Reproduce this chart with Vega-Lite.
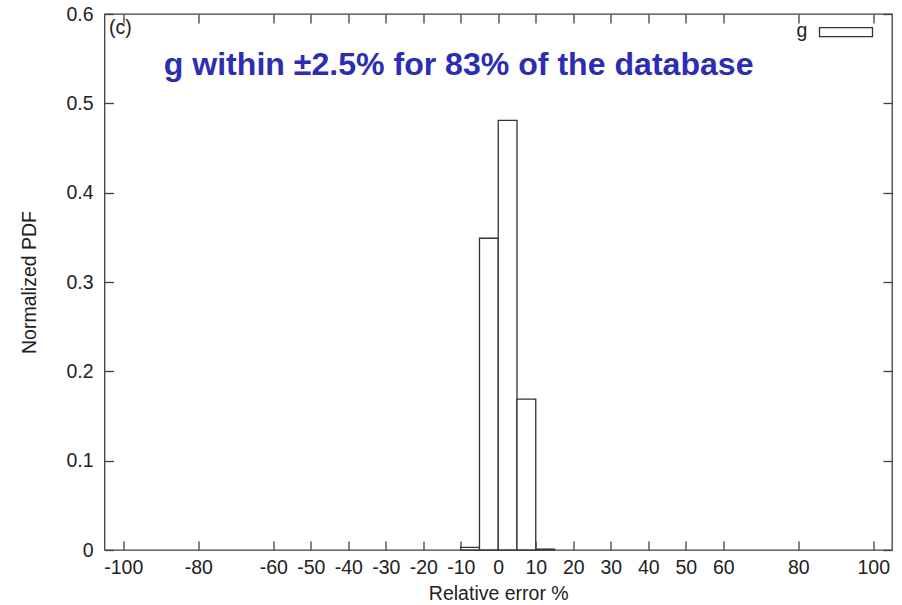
{
  "$schema": "https://vega.github.io/schema/vega-lite/v6.json",
  "width": 787.5,
  "height": 536,
  "autosize": {"type": "none"},
  "padding": {"left": 104.5, "top": 14, "right": 10, "bottom": 55},
  "background": "white",
  "config": {
    "view": {"stroke": "#404040", "strokeWidth": 1.3},
    "font": "Liberation Sans",
    "axis": {
      "domain": false,
      "grid": false,
      "tickColor": "#404040",
      "tickWidth": 1.3,
      "tickSize": -9,
      "labelFont": "Liberation Sans",
      "labelFontSize": 19.5,
      "labelColor": "#222222",
      "labelFlush": false,
      "titleFont": "Liberation Sans",
      "titleFontSize": 19.5,
      "titleFontWeight": "normal",
      "titleColor": "#222222"
    }
  },
  "datasets": {
    "hist": [
      {"series": "g", "lo": -10, "hi": -5, "pdf": 0.003},
      {"series": "g", "lo": -5, "hi": 0, "pdf": 0.349},
      {"series": "g", "lo": 0, "hi": 5, "pdf": 0.481},
      {"series": "g", "lo": 5, "hi": 10, "pdf": 0.169},
      {"series": "g", "lo": 10, "hi": 15, "pdf": 0.001}
    ]
  },
  "layer": [
    {
      "data": {"name": "hist"},
      "mark": {"type": "rect", "fill": "white", "strokeWidth": 1.3},
      "encoding": {
        "x": {
          "field": "lo",
          "type": "quantitative",
          "scale": {"domain": [-105, 105], "nice": false, "zero": false},
          "axis": {
            "orient": "bottom",
            "values": [-100, -80, -60, -50, -40, -30, -20, -10, 0, 10, 20, 30, 40, 50, 60, 80, 100],
            "labelExpr": "'' + datum.value",
            "labelPadding": 17,
            "title": "Relative error %",
            "titlePadding": 8
          }
        },
        "x2": {"field": "hi"},
        "y": {
          "field": "pdf",
          "type": "quantitative",
          "scale": {"domain": [0, 0.6], "nice": false},
          "axis": {
            "orient": "left",
            "values": [0, 0.1, 0.2, 0.3, 0.4, 0.5, 0.6],
            "labelExpr": "'' + datum.value",
            "labelPadding": 20.5,
            "title": "Normalized PDF",
            "titlePadding": 26
          }
        },
        "y2": {"datum": 0},
        "stroke": {
          "field": "series",
          "type": "nominal",
          "scale": {"range": ["#333333"]},
          "legend": {
            "orient": "none",
            "legendX": 692,
            "legendY": -9.3,
            "padding": 0,
            "title": "g",
            "titleOrient": "left",
            "titleAnchor": "start",
            "titleBaseline": "line-top",
            "titleLineHeight": 53,
            "titleFont": "Liberation Sans",
            "titleFontSize": 19.5,
            "titleFontWeight": "normal",
            "titleColor": "#222222",
            "titlePadding": 11,
            "labelExpr": "''",
            "labelOffset": 0,
            "symbolType": "M-1,-0.17L1,-0.17L1,0.17L-1,0.17Z",
            "symbolSize": 2809,
            "symbolFillColor": "white",
            "symbolStrokeWidth": 1.3
          }
        }
      }
    },
    {
      "data": {"values": [{}]},
      "mark": {"type": "text", "align": "left", "baseline": "alphabetic", "font": "Liberation Sans", "fontSize": 19.5, "color": "#222222"},
      "encoding": {
        "x": {
          "datum": -103.8,
          "type": "quantitative",
          "scale": {"domain": [-105, 105], "nice": false, "zero": false},
          "axis": {
            "orient": "top",
            "values": [-100, -80, -60, -50, -40, -30, -20, -10, 0, 10, 20, 30, 40, 50, 60, 80, 100],
            "labels": false,
            "title": null
          }
        },
        "y": {
          "datum": 0.578,
          "type": "quantitative",
          "scale": {"domain": [0, 0.6], "nice": false},
          "axis": {
            "orient": "right",
            "values": [0, 0.1, 0.2, 0.3, 0.4, 0.5, 0.6],
            "labels": false,
            "title": null
          }
        },
        "text": {"value": "(c)"}
      }
    },
    {
      "data": {"values": [{}]},
      "mark": {"type": "text", "align": "left", "baseline": "alphabetic", "font": "Liberation Sans", "fontSize": 32.1, "fontWeight": "bold", "color": "#2d2db4"},
      "encoding": {
        "x": {"datum": -89.2, "type": "quantitative", "scale": {"domain": [-105, 105], "nice": false, "zero": false}, "axis": null},
        "y": {"datum": 0.5317, "type": "quantitative", "scale": {"domain": [0, 0.6], "nice": false}, "axis": null},
        "text": {"value": "g within ±2.5% for 83% of the database"}
      }
    }
  ],
  "resolve": {"axis": {"x": "independent", "y": "independent"}}
}
